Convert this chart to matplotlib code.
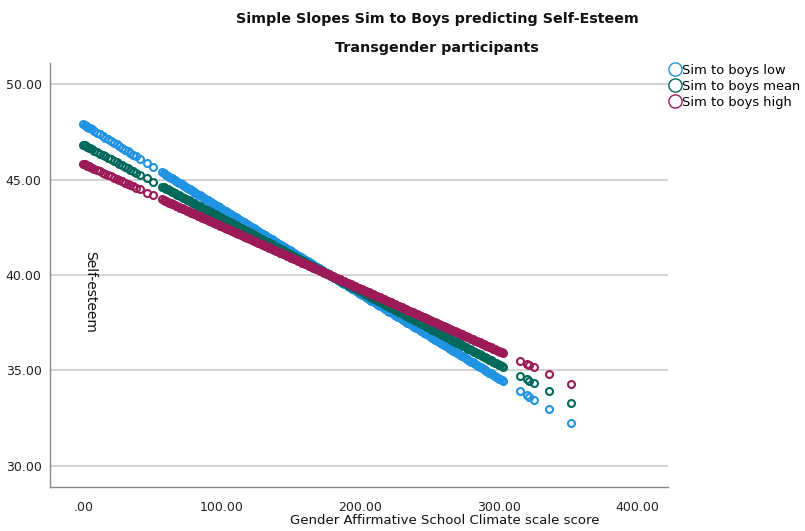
import matplotlib
matplotlib.use("Agg")
import matplotlib.pyplot as plt
from matplotlib.lines import Line2D
import numpy as np

# ---- data ----
groups = ["Sim to boys low", "Sim to boys mean", "Sim to boys high"]
intercepts = [47.90, 46.82, 45.82]          # predicted self-esteem at score 0
slopes = [-0.0444, -0.0384, -0.0327]        # simple slopes
climate_scores = [
    0, 1, 2, 3, 4, 5, 6, 8, 10, 12, 14, 16, 18, 20, 22, 24, 26, 28, 30, 32,
    34, 36, 38, 41, 46, 50.5,
    57, 58, 59, 60, 61, 62, 63, 64, 65, 66, 67, 68, 69, 70, 71, 72, 73, 74,
    75, 76, 77, 78, 79, 80, 81, 82, 83, 84, 85, 86, 87, 88, 89, 90, 91, 92,
    93, 94, 95, 96, 97, 98, 99, 100, 101, 102, 103, 104, 105, 106, 107, 108,
    109, 110, 111, 112, 113, 114, 115, 116, 117, 118, 119, 120, 121, 122,
    123, 124, 125, 126, 127, 128, 129, 130, 131, 132, 133, 134, 135, 136,
    137, 138, 139, 140, 141, 142, 143, 144, 145, 146, 147, 148, 149, 150,
    151, 152, 153, 154, 155, 156, 157, 158, 159, 160, 161, 162, 163, 164,
    165, 166, 167, 168, 169, 170, 171, 172, 173, 174, 175, 176, 177, 178,
    179, 180, 181, 182, 183, 184, 185, 186, 187, 188, 189, 190, 191, 192,
    193, 194, 195, 196, 197, 198, 199, 200, 201, 202, 203, 204, 205, 206,
    207, 208, 209, 210, 211, 212, 213, 214, 215, 216, 217, 218, 219, 220,
    221, 222, 223, 224, 225, 226, 227, 228, 229, 230, 231, 232, 233, 234,
    235, 236, 237, 238, 239, 240, 241, 242, 243, 244, 245, 246, 247, 248,
    249, 250, 251, 252, 253, 254, 255, 256, 257, 258, 259, 260, 261, 262,
    263, 264, 265, 266, 267, 268, 269, 270, 271, 272, 273, 274, 275, 276,
    277, 278, 279, 280, 281, 282, 283, 284, 285, 286, 287, 288, 289, 290,
    291, 292, 293, 294, 295, 296, 297, 298, 299, 300, 301, 302, 303,
    315, 320, 322, 325, 336, 352,
]
x_ticks = [0, 100, 200, 300, 400]
x_tick_labels = [".00", "100.00", "200.00", "300.00", "400.00"]
y_ticks = [30, 35, 40, 45, 50]
y_tick_labels = ["30.00", "35.00", "40.00", "45.00", "50.00"]

colors = ["#2093e3", "#00695c", "#9c1a58"]

plt.rcParams['font.family'] = ['DejaVu Sans']
fig = plt.figure(figsize=(8.05, 5.31), dpi=100)
ax = fig.add_axes([50/805, 44/531, (668-50)/805, (487-63)/531])

x = np.array(climate_scores, dtype=float)
for g, a, b, c in zip(groups, intercepts, slopes, colors):
    y = a + b * x
    ax.plot(x, y, linestyle="none", marker="o", markersize=5.0,
            markerfacecolor="none", markeredgecolor=c, markeredgewidth=1.5,
            label=g)

ax.set_xlim(-24, 422)
ax.set_ylim(28.9, 51.1)
ax.set_xticks(x_ticks)
ax.set_xticklabels(x_tick_labels)
ax.set_yticks(y_ticks)
ax.set_yticklabels(y_tick_labels)
ax.tick_params(length=0, labelsize=9, colors="#222222", pad=6)
ax.tick_params(axis="x", pad=10)
ax.yaxis.grid(True, color="#d4d4d4", linewidth=1.5)
ax.set_axisbelow(True)
for s in ["top", "right"]:
    ax.spines[s].set_visible(False)
for s in ["left", "bottom"]:
    ax.spines[s].set_color("#888888")
    ax.spines[s].set_linewidth(1.0)

fig.text(90/805, 1 - 292/531, "Self-esteem",
         rotation=-90, ha="center", va="center", fontsize=10, color="#111111")
fig.text(445/805, 1 - 521/531, "Gender Affirmative School Climate scale score",
         ha="center", va="center", fontsize=9.5, color="#111111")

fig.text(437/805, 1 - 19/531, "Simple Slopes Sim to Boys predicting Self-Esteem",
         ha="center", va="center", fontsize=10.3, fontweight="bold", color="#111111")
fig.text(437/805, 1 - 48/531, "Transgender participants",
         ha="center", va="center", fontsize=10.3, fontweight="bold", color="#111111")

handles = [Line2D([], [], linestyle="none", marker="o", markersize=9.5,
                  markerfacecolor="none", markeredgecolor=c, markeredgewidth=1.0)
           for c in colors]
fig.legend(handles, groups, loc="upper left", bbox_to_anchor=(668/805, 1 - 64/531),
           frameon=False, fontsize=9.4, handletextpad=0.05, labelspacing=0.22,
           handlelength=1.0, borderaxespad=0, borderpad=0)

fig.savefig("out.png", dpi=100)
